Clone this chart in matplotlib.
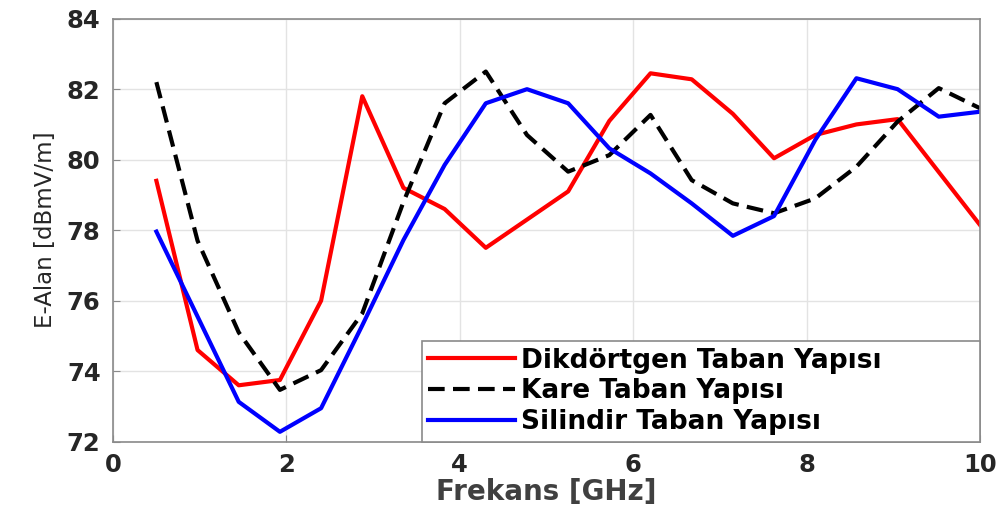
import matplotlib
matplotlib.use("Agg")
import matplotlib.pyplot as plt

# frekans noktalari [GHz]
frekans = [0.5, 0.975, 1.45, 1.925, 2.4, 2.875, 3.35, 3.825, 4.3, 4.775, 5.25,
           5.725, 6.2, 6.675, 7.15, 7.625, 8.1, 8.575, 9.05, 9.525, 10.0]

dikdortgen = [79.4, 74.6, 73.6, 73.75, 76.0, 81.8, 79.2, 78.6, 77.5, 78.3, 79.1,
              81.1, 82.45, 82.28, 81.3, 80.04, 80.7, 81.0, 81.15, 79.65, 78.15]
kare = [82.2, 77.7, 75.1, 73.47, 74.03, 75.64, 78.8, 81.6, 82.5, 80.7, 79.66,
        80.13, 81.27, 79.42, 78.76, 78.48, 78.9, 79.8, 81.08, 82.03, 81.46]
silindir = [77.96, 75.55, 73.13, 72.28, 72.95, 75.3, 77.72, 79.85, 81.6, 82.0, 81.6,
            80.32, 79.61, 78.76, 77.84, 78.4, 80.56, 82.31, 82.0, 81.22, 81.36]

etiketler = ["Dikdörtgen Taban Yapısı", "Kare Taban Yapısı", "Silindir Taban Yapısı"]

plt.rcParams["font.family"] = ["DejaVu Sans"]

fig = plt.figure(figsize=(10.03, 5.13), dpi=100)
ax = fig.add_axes([0.1127, 0.139, 0.977 - 0.1127, 0.9636 - 0.139])

ax.plot(frekans, dikdortgen, color="#ff0000", lw=3, label=etiketler[0])
ax.plot(frekans, kare, color="black", lw=3, linestyle=(0, (4, 2)), label=etiketler[1])
ax.plot(frekans, silindir, color="#0000ff", lw=3, label=etiketler[2])

ax.set_xlim(0, 10)
ax.set_ylim(72, 84)
ax.set_xticks([0, 2, 4, 6, 8, 10])
ax.set_yticks([72, 74, 76, 78, 80, 82, 84])
ax.grid(True, color="#e3e3e3", lw=1)
ax.set_axisbelow(True)

for s in ax.spines.values():
    s.set_color("#8a8a8a")
    s.set_linewidth(1.2)
ax.tick_params(direction="in", length=5, color="#8a8a8a", labelsize=17.5,
               labelcolor="#262626")
ax.tick_params(axis="x", pad=8)
ax.tick_params(axis="y", pad=9)
for lab in ax.get_xticklabels() + ax.get_yticklabels():
    lab.set_fontweight("bold")

ax.set_xlabel("Frekans [GHz]", fontsize=20, fontweight="bold", color="#404040", labelpad=1)
ax.set_ylabel("E-Alan [dBmV/m]", fontsize=16.5, color="#262626", labelpad=7)

# legend kutusu sag alt koseye yapisik
x0 = 0.356
leg = ax.legend(loc="lower left", bbox_to_anchor=(x0, 0.0, 1 - x0, 0.2), mode="expand",
                borderaxespad=0, prop={"size": 19, "weight": "bold"}, handlelength=3.3,
                handletextpad=0.2, labelspacing=0.18, borderpad=0.25,
                fancybox=False, framealpha=1)
leg.get_frame().set_edgecolor("#8a8a8a")
leg.get_frame().set_linewidth(1.2)

fig.savefig("out.png", dpi=100)
